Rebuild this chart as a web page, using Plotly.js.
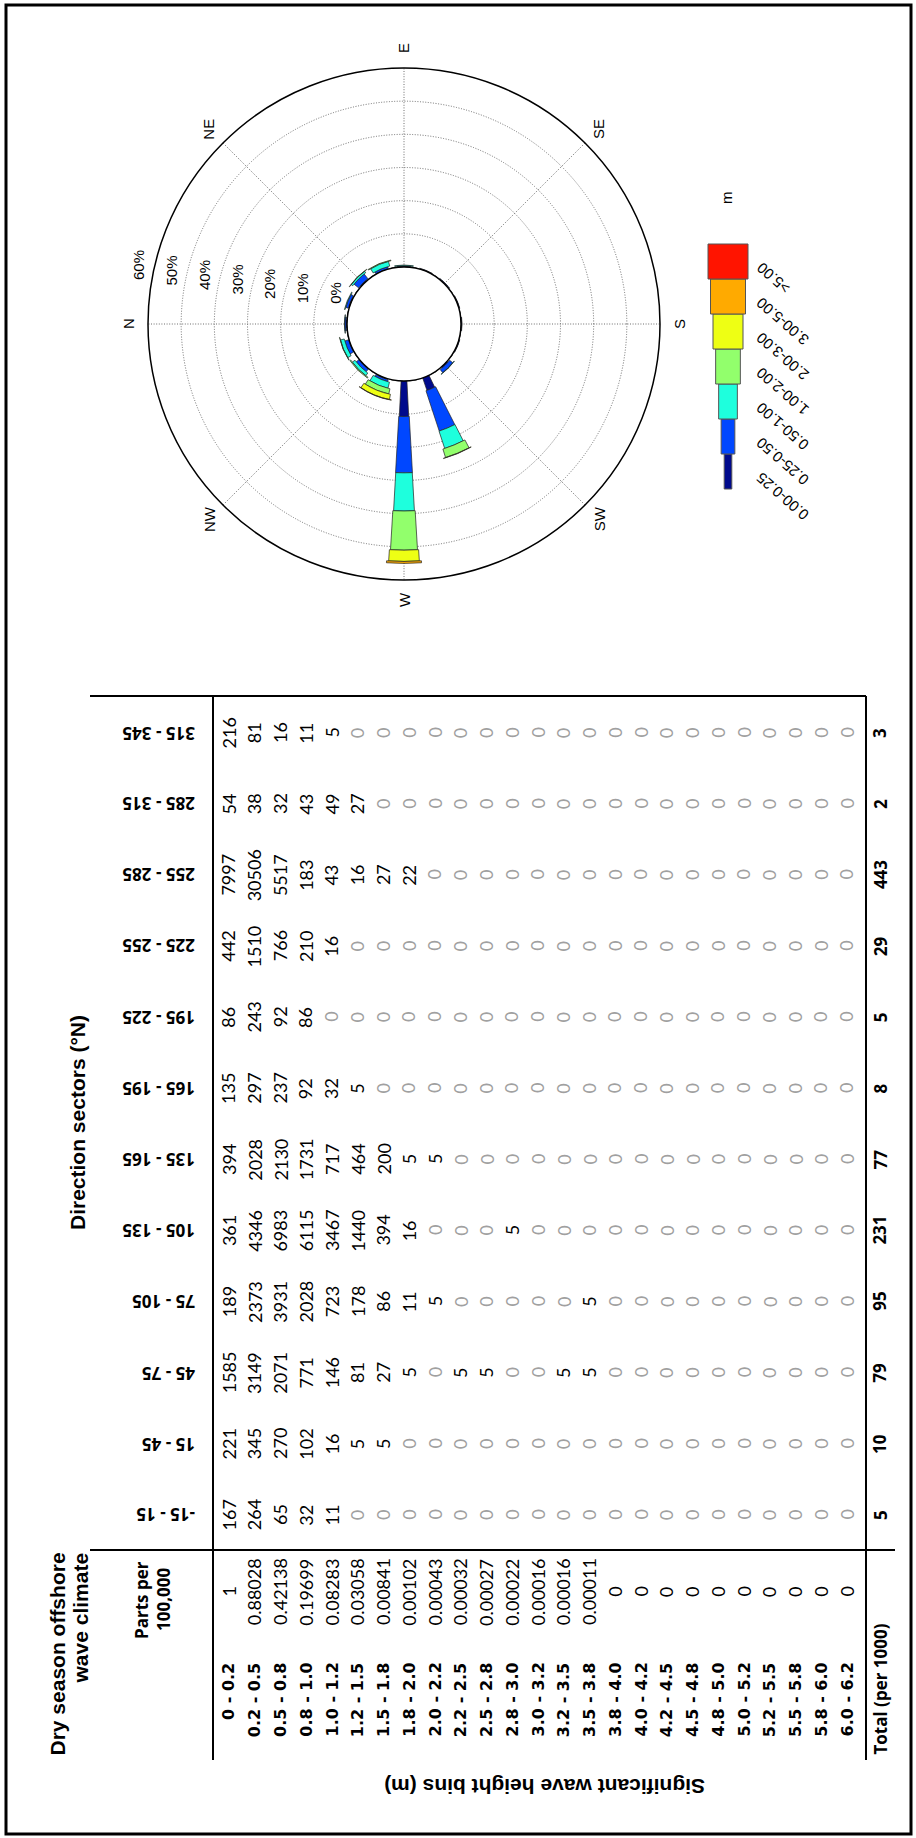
<!DOCTYPE html>
<html><head><meta charset="utf-8">
<script src="https://cdn.plot.ly/plotly-3.0.1.min.js"></script>
<style>html,body{margin:0;padding:0;background:#fff}</style>
</head><body><div id="chart" style="width:916px;height:1838px"></div>
<script>
// ---------------- DATA ----------------
const heightBins = ['0 - 0.2','0.2 - 0.5','0.5 - 0.8','0.8 - 1.0','1.0 - 1.2','1.2 - 1.5','1.5 - 1.8','1.8 - 2.0','2.0 - 2.2','2.2 - 2.5','2.5 - 2.8','2.8 - 3.0','3.0 - 3.2','3.2 - 3.5','3.5 - 3.8','3.8 - 4.0','4.0 - 4.2','4.2 - 4.5','4.5 - 4.8','4.8 - 5.0','5.0 - 5.2','5.2 - 5.5','5.5 - 5.8','5.8 - 6.0','6.0 - 6.2'];
const directionSectors = ['-15 - 15','15 - 45','45 - 75','75 - 105','105 - 135','135 - 165','165 - 195','195 - 225','225 - 255','255 - 285','285 - 315','315 - 345'];
const partsPer100000 = ['1','0.88028','0.42138','0.19699','0.08283','0.03058','0.00841','0.00102','0.00043','0.00032','0.00027','0.00022','0.00016','0.00016','0.00011','0','0','0','0','0','0','0','0','0','0'];
const counts_m15_15  = [167,264,65,32,11,0,0,0,0,0,0,0,0,0,0,0,0,0,0,0,0,0,0,0,0];
const counts_15_45   = [221,345,270,102,16,5,5,0,0,0,0,0,0,0,0,0,0,0,0,0,0,0,0,0,0];
const counts_45_75   = [1585,3149,2071,771,146,81,27,5,0,5,5,0,0,5,5,0,0,0,0,0,0,0,0,0,0];
const counts_75_105  = [189,2373,3931,2028,723,178,86,11,5,0,0,0,0,0,5,0,0,0,0,0,0,0,0,0,0];
const counts_105_135 = [361,4346,6983,6115,3467,1440,394,16,0,0,0,5,0,0,0,0,0,0,0,0,0,0,0,0,0];
const counts_135_165 = [394,2028,2130,1731,717,464,200,5,5,0,0,0,0,0,0,0,0,0,0,0,0,0,0,0,0];
const counts_165_195 = [135,297,237,92,32,5,0,0,0,0,0,0,0,0,0,0,0,0,0,0,0,0,0,0,0];
const counts_195_225 = [86,243,92,86,0,0,0,0,0,0,0,0,0,0,0,0,0,0,0,0,0,0,0,0,0];
const counts_225_255 = [442,1510,766,210,16,0,0,0,0,0,0,0,0,0,0,0,0,0,0,0,0,0,0,0,0];
const counts_255_285 = [7997,30506,5517,183,43,16,27,22,0,0,0,0,0,0,0,0,0,0,0,0,0,0,0,0,0];
const counts_285_315 = [54,38,32,43,49,27,0,0,0,0,0,0,0,0,0,0,0,0,0,0,0,0,0,0,0];
const counts_315_345 = [216,81,16,11,5,0,0,0,0,0,0,0,0,0,0,0,0,0,0,0,0,0,0,0,0];
const totalsPer1000 = [5,10,79,95,231,77,8,5,29,443,2,3];

// wave rose (percent of time, 16 sectors, stacked by height class)
const roseDirections = ['N','NNE','NE','ENE','E','ESE','SE','SSE','S','SSW','SW','WSW','W','WNW','NW','NNW'];
const roseClasses = ['0.00-0.25','0.25-0.50','0.50-1.00','1.00-2.00','2.00-3.00','3.00-5.00','>5.00'];
const rose_000_025 = [0.3,0.3,0.3,0.2,0.2,0.2,0.2,0.2,0.2,0.2,0.4,4.0,10.7,0.3,0.2,0.2];
const rose_025_050 = [0.4,0.8,1.8,0.6,0.2,0.1,0.1,0.1,0.1,0.1,1.2,12.8,17.0,0.6,1.0,1.2];
const rose_050_100 = [0.1,0.2,0.6,1.5,0.2,0,0,0,0,0,0.1,5.5,11.5,1.9,1.0,1.2];
const rose_100_200 = [0,0,0.1,0.2,0,0,0,0,0,0,0,2.7,11.8,1.6,0.3,0.1];
const rose_200_300 = [0,0,0,0,0,0,0,0,0,0,0,0.1,3.4,1.6,0,0];
const rose_300_500 = [0,0,0,0,0,0,0,0,0,0,0,0,0.6,0.1,0,0];
const rose_gt_500  = [0,0,0,0,0,0,0,0,0,0,0,0,0,0,0,0];
const compassLabels = ['N','NE','E','SE','S','SW','W','NW'];
const radialTicks = [0,10,20,30,40,50,60];
const radialLabels = ['0%','10%','20%','30%','40%','50%','60%'];

// ---------------- STYLE / LAYOUT ----------------
const W = 916, H = 1838;
const px = v => v / W, py = v => 1 - v / H;
const CAL = 'Lato, "Open Sans", sans-serif';
const CALB = '"Open Sans", Lato, sans-serif';
const VER = '"DejaVu Sans", Verdana, sans-serif';
const ARI = '"Liberation Sans", Arial, sans-serif';
const classColors = ['#000a8c','#0047ff','#1effdd','#92ff6c','#eeff14','#ffaa00','#ff1400'];
const classPx = [7.6, 13.7, 18.7, 24.7, 30, 35, 40];

const CX = 404, CY = 324, R_PX = 256, HOLE_PX = 57;
const R_MIN = 0, R_MAX = 60;
const PX_PER_PCT = (R_PX - HOLE_PX) / (R_MAX - R_MIN);

// table geometry
const rowX0 = 228.5, rowDX = (846.5 - 228.5) / 24, totalX = 880;
const colY0 = 1515, colDY = 71.1;
const partsY = 1592, labelEndY = 1662;

const annotations = [];
const shapes = [];
function ann(x, y, text, o) {
  annotations.push(Object.assign({xref:'paper', yref:'paper', x:px(x), y:py(y), text:text, showarrow:false, borderpad:0}, o));
}
function line(x0, y0, x1, y1, w) {
  shapes.push({type:'line', xref:'paper', yref:'paper', x0:px(x0), y0:py(y0), x1:px(x1), y1:py(y1), line:{color:'#000', width:w||2}});
}
const fCal = {family:CAL, size:18, color:'#000'};
const fCalB = {family:CALB, size:17, color:'#000', weight:'bold'};
const fRose = {family:ARI, size:15, color:'#000'};

// border
shapes.push({type:'rect', xref:'paper', yref:'paper', x0:px(6), x1:px(911), y0:py(5), y1:py(1834), line:{color:'#000', width:3}});

// table lines
line(90, 696, 866, 696, 2.2);
line(90, 1550, 895, 1550, 2.2);
line(213, 696, 213, 1760, 2);
line(866, 696, 866, 1760, 2);

const sectorCounts = [counts_m15_15,counts_15_45,counts_45_75,counts_75_105,counts_105_135,counts_135_165,counts_165_195,counts_195_225,counts_225_255,counts_255_285,counts_285_315,counts_315_345];

sectorCounts.forEach((vals, j) => {
  const y = colY0 - j * colDY;
  ann(196, y, '<b>' + directionSectors[j] + '</b>', {textangle:180, xanchor:'right', yanchor:'middle', font:fCalB});
  vals.forEach((v, i) => {
    ann(rowX0 + i * rowDX, y, String(v), {textangle:-90, xanchor:'center', yanchor:'middle', font:{family:CAL, size:18, color: v === 0 ? '#a0a0a0' : '#000'}});
  });
  ann(totalX, y, '<b>' + totalsPer1000[j] + '</b>', {textangle:-90, xanchor:'center', yanchor:'middle', font:fCalB});
});

heightBins.forEach((b, i) => {
  const x = rowX0 + i * rowDX;
  ann(x, labelEndY, '<b>' + b + '</b>', {textangle:-90, xanchor:'center', yanchor:'top', font:{family:VER, size:16, color:'#000', weight:'bold'}});
  ann(x, partsY, partsPer100000[i], {textangle:-90, xanchor:'center', yanchor:'middle', font:fCal});
});

ann(totalX, 1756, '<b>Total (per 1000)</b>', {textangle:-90, xanchor:'center', yanchor:'bottom', font:fCalB});
ann(141, 1600, '<b>Parts per</b>', {textangle:-90, xanchor:'center', yanchor:'middle', font:fCalB});
ann(163, 1600, '<b>100,000</b>', {textangle:-90, xanchor:'center', yanchor:'middle', font:fCalB});
const fTitle = {family:ARI, size:21, color:'#000', weight:'bold'};
ann(57, 1552, '<b>Dry season offshore</b>', {textangle:-90, xanchor:'center', yanchor:'top', font:fTitle});
ann(80, 1552, '<b>wave climate</b>', {textangle:-90, xanchor:'center', yanchor:'top', font:fTitle});
ann(77, 1123, '<b>Direction sectors (°N)</b>', {textangle:-90, xanchor:'center', yanchor:'middle', font:fTitle});
ann(545, 1787, '<b>Significant wave height bins (m)</b>', {textangle:180, xanchor:'center', yanchor:'middle', font:fTitle});

// rose legend
const LEG_X = 728, LEG_BOTTOM = 489, LEG_H = 35;
roseClasses.forEach((c, k) => {
  const y1 = LEG_BOTTOM - k * LEG_H, y0 = y1 - LEG_H;
  shapes.push({type:'rect', xref:'paper', yref:'paper', x0:px(LEG_X - classPx[k]/2), x1:px(LEG_X + classPx[k]/2), y0:py(y0), y1:py(y1), fillcolor:classColors[k], line:{color:'#555', width:1}});
  ann(752, (y0 + y1) / 2 - 4, c, {textangle:-139, xanchor:'left', yanchor:'top', font:fRose});
});
ann(727, 198, 'm', {textangle:-90, xanchor:'center', yanchor:'middle', font:fRose});

// compass labels just outside the rose (N at left, clockwise)
const LABEL_R = 276;
compassLabels.forEach((t, k) => {
  const a = k * 45 * Math.PI / 180;
  ann(CX - LABEL_R * Math.cos(a), CY - LABEL_R * Math.sin(a), t, {textangle:-90, xanchor:'center', yanchor:'middle', font:fRose});
});
// radial (percentage) labels along a line slightly above the N axis
const RA = 8 * Math.PI / 180;
const ux = -Math.cos(RA), uy = -Math.sin(RA), nx = Math.sin(RA), ny = -Math.cos(RA);
radialTicks.forEach((v, k) => {
  const r = HOLE_PX + (v - R_MIN) * PX_PER_PCT + 15;
  ann(CX + ux * r + nx * 21, CY + uy * r + ny * 21, radialLabels[k], {textangle:-90, xanchor:'center', yanchor:'middle', font:fRose});
});

// rose traces
const roseSeries = [rose_000_025, rose_025_050, rose_050_100, rose_100_200, rose_200_300, rose_300_500, rose_gt_500];
const traces = [];
const ringTheta = [], ringR = [];
for (let k = 0; k <= roseDirections.length; k++) { ringTheta.push(11.25 + k * 22.5); ringR.push(0.15); }
traces.push({type:'scatterpolar', mode:'lines', r:ringR, theta:ringTheta, line:{color:'#333', width:0.8}, showlegend:false, hoverinfo:'skip'});

const base = new Array(roseDirections.length).fill(0);
roseSeries.forEach((vals, c) => {
  const th = [], r = [], w = [];
  vals.forEach((v, k) => {
    if (v > 0) {
      th.push(k * 360 / roseDirections.length);
      r.push(v);
      const mid = HOLE_PX + (base[k] + v / 2 - R_MIN) * PX_PER_PCT;
      w.push(classPx[c] / mid * 180 / Math.PI);
    }
    base[k] += v;
  });
  traces.push({type:'barpolar', name:roseClasses[c], r:r, theta:th, width:w,
    marker:{color:classColors[c], line:{color:'#222', width:0.7}}, showlegend:false});
});

const layout = {
  width:W, height:H, margin:{l:0, r:0, t:0, b:0}, paper_bgcolor:'#fff', showlegend:false,
  annotations:annotations, shapes:shapes,
  polar:{
    domain:{x:[px(CX - R_PX), px(CX + R_PX)], y:[py(CY + R_PX), py(CY - R_PX)]},
    bgcolor:'#fff', hole: HOLE_PX / R_PX, barmode:'stack',
    radialaxis:{range:[R_MIN, R_MAX], tickvals:radialTicks, showticklabels:false, angle:172,
      showline:false, ticks:'', gridcolor:'#6e6e6e', griddash:'1px,1.6px', gridwidth:1},
    angularaxis:{rotation:180, direction:'clockwise', tickmode:'array', tickvals:[0,45,90,135,180,225,270,315],
      showticklabels:false, showline:true, linecolor:'#000', linewidth:1.5, ticks:'', gridcolor:'#6e6e6e', griddash:'1px,1.6px', gridwidth:1}
  }
};
Plotly.newPlot('chart', traces, layout, {staticPlot:true});
</script></body></html>
